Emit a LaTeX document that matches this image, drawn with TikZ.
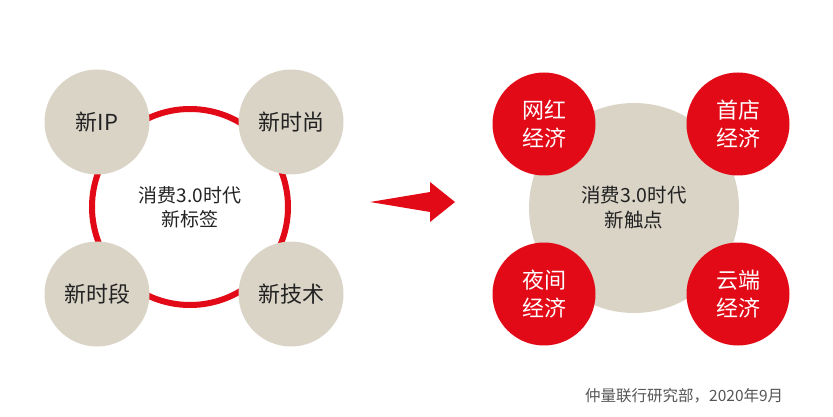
\documentclass[tikz,border=0pt]{standalone}
\usepackage{fontspec}
\setmainfont{Noto Sans CJK SC}
\definecolor{jllred}{HTML}{E20A17}
\definecolor{beige}{HTML}{D9D4C6}
\definecolor{txt}{HTML}{222222}
\definecolor{foot}{HTML}{555555}
\begin{document}
\begin{tikzpicture}[x=1pt,y=-1pt,
  graycirc/.style={circle,fill=beige,minimum size=105pt,inner sep=0pt,text=txt,font=\fontsize{22}{26}\selectfont},
  redcirc/.style={circle,fill=jllred,minimum size=103pt,inner sep=0pt,text=white,align=center,font=\fontsize{22}{28}\selectfont},
  bigcirc/.style={circle,fill=beige,minimum size=210pt,inner sep=0pt,text=txt,align=center,font=\fontsize{19.5}{25}\selectfont},
  ringstyle/.style={circle,draw=jllred,line width=6pt,minimum size=196pt,inner sep=0pt,text=txt,align=center,font=\fontsize{19}{24}\selectfont},
  arrowshape/.style={fill=jllred,draw=none}
]
\useasboundingbox (0,0) rectangle (833,417);
% left group
\node[ringstyle] (ring) at (190,207) {消费3.0时代\\新标签};
\node[graycirc] (ip) at (97,122) {新IP};
\node[graycirc] (fashion) at (291,122) {新时尚};
\node[graycirc] (time) at (97,294) {新时段};
\node[graycirc] (tech) at (291,294) {新技术};
% arrow
\coordinate (atail) at (370,202);
\coordinate (ahead) at (455,202);
\fill[arrowshape] (atail) -- (430,192) -- (430,182) -- (ahead) -- (430,222) -- (430,212) -- cycle;
% right group
\node[bigcirc] (center) at (634,208) {消费3.0时代\\新触点};
\node[redcirc] (wh) at (544,124) {网红\\经济};
\node[redcirc] (sd) at (738,124) {首店\\经济};
\node[redcirc] (yj) at (544,294) {夜间\\经济};
\node[redcirc] (yd) at (738,294) {云端\\经济};
% footer
\node[anchor=west,text=foot,font=\fontsize{15.5}{18}\selectfont,inner sep=0pt] (src) at (585,396) {仲量联行研究部，2020年9月};
\end{tikzpicture}
\end{document}
